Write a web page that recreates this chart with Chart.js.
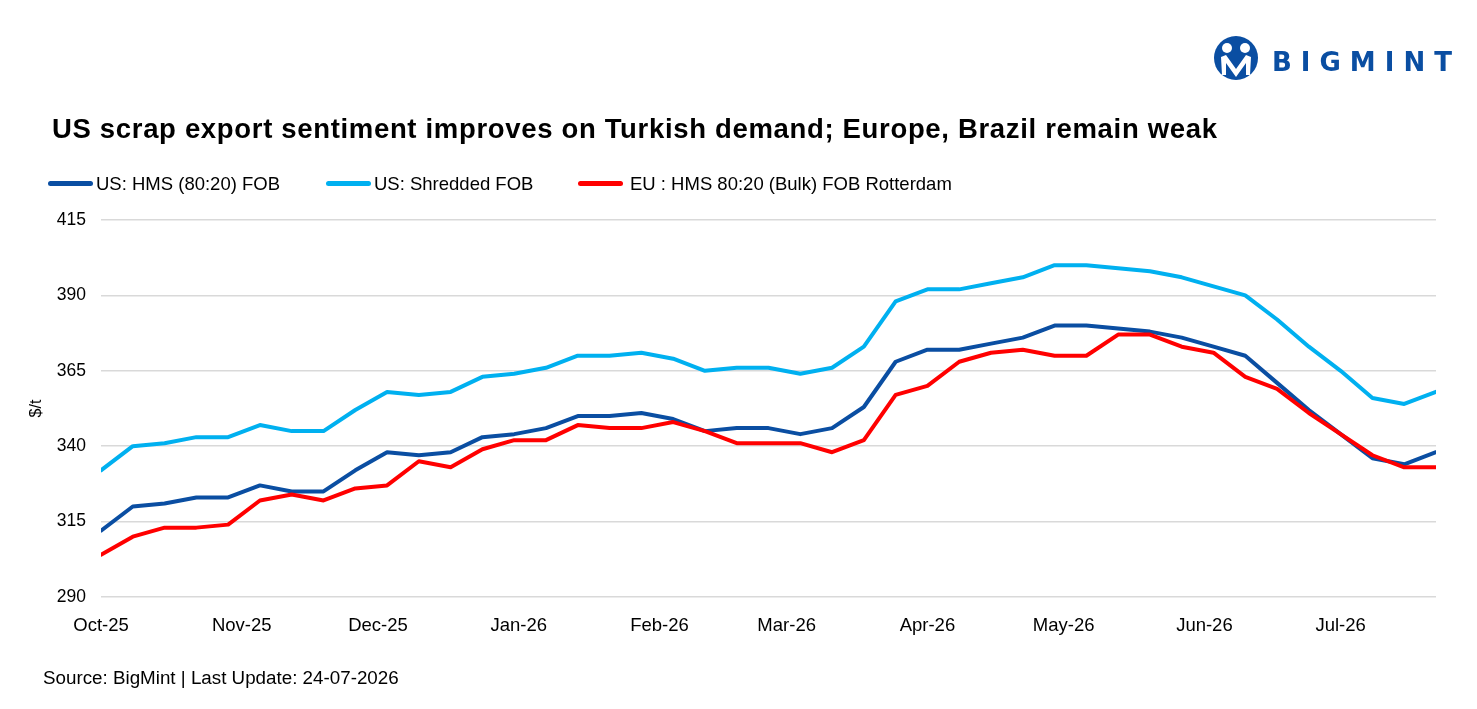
<!DOCTYPE html>
<html>
<head>
<meta charset="utf-8">
<script src="https://cdn.jsdelivr.net/npm/chart.js@4.4.1/dist/chart.umd.min.js"></script>
<style>
  html, body { margin: 0; padding: 0; background: #fff; }
  body { width: 1477px; height: 709px; position: relative; overflow: hidden; font-family: "Liberation Sans", Arial, sans-serif; color: #000; }
  #chartBox { position: absolute; left: 0; top: 0; width: 1477px; height: 709px; }
  .title { position: absolute; left: 52px; top: 113px; font-size: 27.5px; letter-spacing: 0.67px; font-weight: bold; white-space: nowrap; line-height: normal; }
  .lg-line { position: absolute; top: 181px; width: 45px; height: 5px; border-radius: 2.5px; }
  .lg-text { position: absolute; top: 172.5px; font-size: 18.5px; white-space: nowrap; line-height: normal; }
  .source { position: absolute; left: 43px; top: 667px; font-size: 18.8px; white-space: nowrap; line-height: normal; }
  .logo-text { position: absolute; left: 1272px; top: 47px; font-family: "DejaVu Sans", sans-serif; font-weight: bold; font-size: 26px; letter-spacing: 9px; color: #0a4ea2; line-height: normal; white-space: nowrap; }
  .logo-icon { position: absolute; left: 1213px; top: 35px; }
</style>
</head>
<body>
<div id="chartBox"><canvas id="chart"></canvas></div>

<svg class="logo-icon" width="46" height="46" viewBox="0 0 46 46">
  <circle cx="23" cy="23" r="22" fill="#0a4ea2"/>
  <circle cx="14" cy="13" r="5" fill="#fff"/>
  <circle cx="32" cy="13" r="5" fill="#fff"/>
  <path d="M8 22 L13 20 L23 34 L33 20 L38 22 L37 40 L33 40 L33 28 L23 42 L13 28 L13 40 L9 40 Z" fill="#fff"/>
</svg>
<div class="logo-text">BIGMINT</div>

<div class="title">US scrap export sentiment improves on Turkish demand; Europe, Brazil remain weak</div>

<div class="lg-line" style="left:48px; background:#0a4ea2;"></div>
<div class="lg-text" style="left:96px;">US: HMS (80:20) FOB</div>
<div class="lg-line" style="left:326px; background:#00b0f0;"></div>
<div class="lg-text" style="left:374px;">US: Shredded FOB</div>
<div class="lg-line" style="left:578px; background:#ff0000;"></div>
<div class="lg-text" style="left:630px;">EU : HMS 80:20 (Bulk) FOB Rotterdam</div>

<div class="source">Source: BigMint | Last Update: 24-07-2026</div>

<script>
// Weekly assessment dates
const weekDates = [
    '2025-10-01', '2025-10-08', '2025-10-15', '2025-10-22', '2025-10-29',
    '2025-11-05', '2025-11-12', '2025-11-19', '2025-11-26',
    '2025-12-03', '2025-12-10', '2025-12-17', '2025-12-24', '2025-12-31',
    '2026-01-07', '2026-01-14', '2026-01-21', '2026-01-28',
    '2026-02-04', '2026-02-11', '2026-02-18', '2026-02-25',
    '2026-03-04', '2026-03-11', '2026-03-18', '2026-03-25',
    '2026-04-01', '2026-04-08', '2026-04-15', '2026-04-22', '2026-04-29',
    '2026-05-06', '2026-05-13', '2026-05-20', '2026-05-27',
    '2026-06-03', '2026-06-10', '2026-06-17', '2026-06-24',
    '2026-07-01', '2026-07-08', '2026-07-15', '2026-07-22'
];

// Prices, $/t
const usHms = [
    312, 320, 321, 323, 323, 327, 325, 325, 332, 338, 337, 338, 343, 344,
    346, 350, 350, 351, 349, 345, 346, 346, 344, 346, 353, 368, 372, 372,
    374, 376, 380, 380, 379, 378, 376, 373, 370, 361, 352, 344, 336, 334, 338
];
const usShredded = [
    332, 340, 341, 343, 343, 347, 345, 345, 352, 358, 357, 358, 363, 364,
    366, 370, 370, 371, 369, 365, 366, 366, 364, 366, 373, 388, 392, 392,
    394, 396, 400, 400, 399, 398, 396, 393, 390, 382, 373, 365, 356, 354, 358
];
const euRotterdam = [
    304, 310, 313, 313, 314, 322, 324, 322, 326, 327, 335, 333, 339, 342,
    342, 347, 346, 346, 348, 345, 341, 341, 341, 338, 342, 357, 360, 368,
    371, 372, 370, 370, 377, 377, 373, 371, 363, 359, 351, 344, 337, 333, 333
];

// Axis ticks
const monthStarts = [
    '2025-10-01', '2025-11-01', '2025-12-01', '2026-01-01', '2026-02-01',
    '2026-03-01', '2026-04-01', '2026-05-01', '2026-06-01', '2026-07-01'
];
const monthLabels = ['Oct-25', 'Nov-25', 'Dec-25', 'Jan-26', 'Feb-26', 'Mar-26', 'Apr-26', 'May-26', 'Jun-26', 'Jul-26'];
const yMin = 290, yMax = 415, yStep = 25;

// Days since the first week, used as the x value
const startMs = Date.parse(weekDates[0]);
const dayOf = (d) => Math.round((Date.parse(d) - startMs) / 86400000);
const toPoints = (values) => values.map((v, i) => ({ x: dayOf(weekDates[i]), y: v }));
const monthOffsets = monthStarts.map(dayOf);

const font = '"Liberation Sans", Arial, sans-serif';

function line(label, values, color) {
    return {
        label: label,
        data: toPoints(values),
        borderColor: color,
        backgroundColor: color,
        borderWidth: 4,
        pointRadius: 0,
        tension: 0,
        borderJoinStyle: 'round',
        borderCapStyle: 'round'
    };
}

const ctx = document.getElementById('chart').getContext('2d');
new Chart(ctx, {
    type: 'line',
    data: {
        datasets: [
            line('EU : HMS 80:20 (Bulk) FOB Rotterdam', euRotterdam, '#ff0000'),
            line('US: Shredded FOB', usShredded, '#00b0f0'),
            line('US: HMS (80:20) FOB', usHms, '#0a4ea2')
        ]
    },
    options: {
        responsive: true,
        maintainAspectRatio: false,
        animation: false,
        layout: { padding: { left: 0, right: 41, top: 220, bottom: 72 } },
        plugins: {
            legend: { display: false },
            tooltip: { enabled: false }
        },
        scales: {
            x: {
                type: 'linear',
                min: 0,
                max: dayOf(weekDates[weekDates.length - 1]),
                grid: { display: false },
                border: { display: false },
                afterBuildTicks: (axis) => { axis.ticks = monthOffsets.map(v => ({ value: v })); },
                afterFit: (axis) => { axis.height = 40; },
                ticks: {
                    autoSkip: false,
                    maxRotation: 0,
                    padding: 10,
                    color: '#000',
                    font: { family: font, size: 18.5 },
                    callback: (v) => {
                        const i = monthOffsets.indexOf(v);
                        return i >= 0 ? monthLabels[i] : '';
                    }
                }
            },
            y: {
                min: yMin,
                max: yMax,
                afterFit: (axis) => { axis.width = 101; },
                grid: { color: '#d9d9d9', lineWidth: 1.5, drawTicks: false },
                border: { display: false },
                ticks: {
                    stepSize: yStep,
                    padding: 15,
                    color: '#000',
                    font: { family: font, size: 17.5 }
                },
                title: {
                    display: true,
                    text: '$/t',
                    color: '#000',
                    font: { family: font, size: 16 },
                    padding: { top: 27, bottom: 0 }
                }
            }
        }
    }
});
</script>
</body>
</html>
